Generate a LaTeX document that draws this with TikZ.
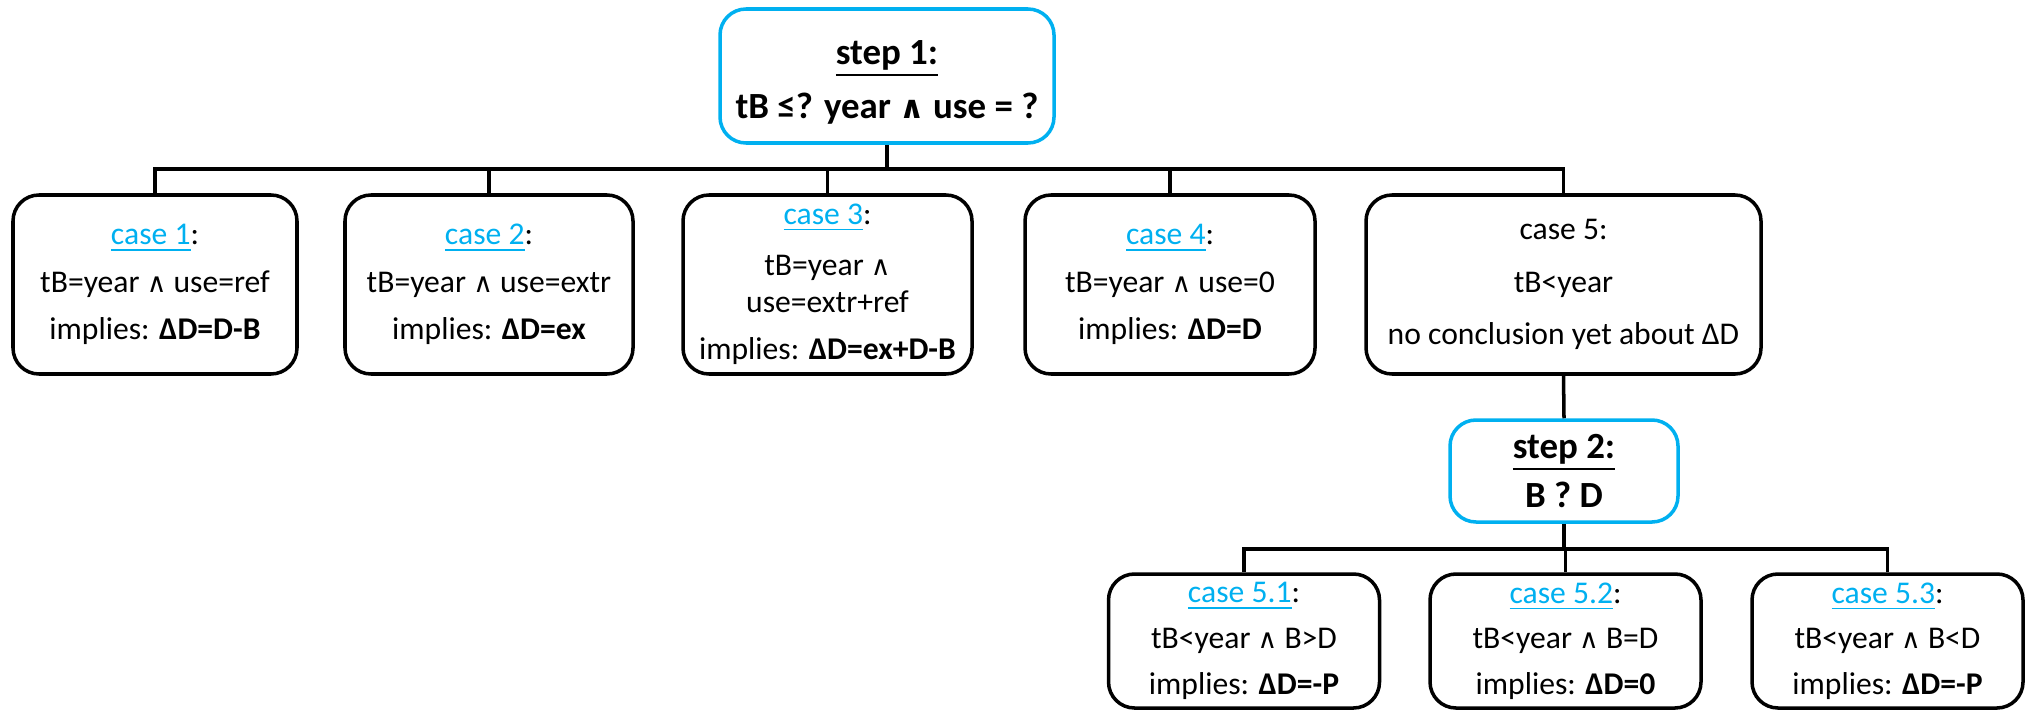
\documentclass[tikz,border=0pt]{standalone}
\usepackage{fontspec}
\setmainfont{Carlito}
\newfontfamily\symfont[Scale=0.85]{DejaVu Sans}
\usepackage{tikz}
\usepackage{xcolor}
\definecolor{linkblue}{RGB}{0,176,240}
\newcommand{\lnk}[1]{\textcolor{linkblue}{\underline{#1}}}
\newcommand{\wedg}{{\symfont\char"2227}}

\begin{document}
\begin{tikzpicture}[
  stepbox/.style={draw=linkblue, line width=1pt, rounded corners=0.26cm, align=center, inner sep=0pt, font=\fontsize{10.5}{11}\selectfont\bfseries},
  casebox/.style={draw, line width=1pt, rounded corners=0.26cm, align=center, inner sep=0pt, minimum height=1.79cm, font=\fontsize{9}{10.5}\selectfont},
  subbox/.style={casebox, minimum width=2.71cm, minimum height=1.34cm},
  conn/.style={line width=1pt}]
%\draw[help lines, color=gray!30, dashed] (0,-7.1) grid (20.27,0);
\useasboundingbox (0,0) rectangle (20.27,-7.10);
\node[stepbox, minimum width=3.34cm, minimum height=1.34cm] (stepa) at (8.87,-0.76) {\rule{0pt}{10.5pt}\underline{step 1:}\\[4.5pt] tB ≤? year \wedg{} use = ?};
\node[casebox, minimum width=2.84cm] (casea) at (1.55,-2.845) {\lnk{case 1}:\\[3pt] tB=year \wedg{} use=ref\\[3pt] implies: \textbf{ΔD=D-B}};
\node[casebox, minimum width=2.88cm] (caseb) at (4.89,-2.845) {\lnk{case 2}:\\[3pt] tB=year \wedg{} use=extr\\[3pt] implies: \textbf{ΔD=ex}};
\node[casebox, minimum width=2.89cm] (casec) at (8.275,-2.845) {\lnk{case 3}:\\[4pt] tB=year \wedg\\ use=extr+ref\\[3pt] implies: \textbf{ΔD=ex+D-B}};
\node[casebox, minimum width=2.90cm] (cased) at (11.70,-2.845) {\lnk{case 4}:\\[3pt] tB=year \wedg{} use=0\\[3pt] implies: \textbf{ΔD=D}};
\node[casebox, minimum width=3.95cm] (casee) at (15.635,-2.845) {case 5:\\[4.5pt] tB<year\\[4.5pt] no conclusion yet about ΔD};
\node[stepbox, minimum width=2.28cm, minimum height=1.02cm] (stepb) at (15.64,-4.71) {\underline{step 2:}\\[3pt] B ? D};
\node[subbox] (casef) at (12.44,-6.41) {\lnk{case 5.1}:\\[2.5pt] tB<year \wedg{} B>D\\[2.5pt] implies: \textbf{ΔD=-P}};
\node[subbox] (caseg) at (15.655,-6.41) {\lnk{case 5.2}:\\[2.5pt] tB<year \wedg{} B=D\\[2.5pt] implies: \textbf{ΔD=0}};
\node[subbox] (caseh) at (18.875,-6.41) {\lnk{case 5.3}:\\[2.5pt] tB<year \wedg{} B<D\\[2.5pt] implies: \textbf{ΔD=-P}};
\coordinate (busa) at (8.87,-1.69);
\coordinate (busb) at (15.64,-5.49);
\draw[conn] (stepa.south) -- (busa);
\foreach \n in {casea,caseb,casec,cased,casee}
  \draw[conn] (\n.north) |- (busa);
\draw[conn] (casee.south) -- (stepb.north);
\draw[conn] (stepb.south) -- (busb);
\foreach \n in {casef,caseg,caseh}
  \draw[conn] (\n.north) |- (busb);
\end{tikzpicture}
\end{document}
